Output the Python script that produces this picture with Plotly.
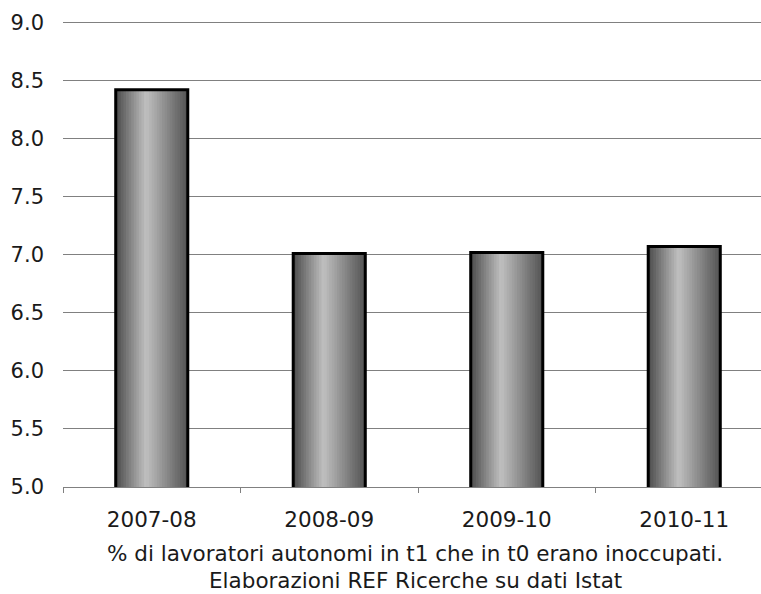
import plotly.graph_objects as go

periods = ["2007-08", "2008-09", "2009-10", "2010-11"]
shares = [8.42, 7.01, 7.02, 7.07]
y_ticks = [5.0, 5.5, 6.0, 6.5, 7.0, 7.5, 8.0, 8.5, 9.0]
caption = [
    "% di lavoratori autonomi in t1 che in t0 erano inoccupati.",
    "Elaborazioni REF Ricerche su dati Istat",
]

FONT = "DejaVu Sans"
W, H = 761, 594
PX_UNIT = 116.3              # pixels per y unit in the target
Y_TOP = 9.03                 # a bit above 9 so the top gridline is drawn
L = 63
T = round(22 - (Y_TOP - 9) * PX_UNIT)
B = H - 487
BAR_W = 0.406
N_STRIPS = 28


def shade(t):
    # cylinder-like grey gradient: dark edges, light just left of centre
    if t < 0.42:
        v = 75 + (192 - 75) * (t / 0.42)
    else:
        v = 192 - (192 - 82) * ((t - 0.42) / 0.58)
    v = int(round(v))
    return f"rgb({v},{v},{v})"


fig = go.Figure()

step = BAR_W / N_STRIPS
for i in range(N_STRIPS):
    t = (i + 0.5) / N_STRIPS
    w = step * 1.4 if i < N_STRIPS - 1 else step
    fig.add_trace(go.Bar(
        x=periods, y=shares,
        width=w, offset=-BAR_W / 2 + i * step,
        marker=dict(color=shade(t), line=dict(width=0)),
        showlegend=False, hoverinfo="skip",
    ))

# black outline on top
fig.add_trace(go.Bar(
    x=periods, y=shares,
    width=BAR_W, offset=-BAR_W / 2,
    marker=dict(color="rgba(0,0,0,0)", line=dict(color="black", width=3)),
    showlegend=False,
))

# plot area runs past the right edge of the picture in the original
plot_w = W - L
cat_px = 177.5
x_max = -0.5 + plot_w / cat_px

fig.update_layout(
    width=W, height=H,
    margin=dict(l=L, r=0, t=T, b=B, autoexpand=False),
    barmode="overlay",
    plot_bgcolor="white", paper_bgcolor="white",
    font=dict(family=FONT, size=21.5, color="#1a1a1a"),
    xaxis=dict(
        type="category",
        range=[-0.5, x_max],
        showline=True, linecolor="#808080", linewidth=1,
        ticks="outside", tickson="boundaries", ticklen=5, tickcolor="#808080",
        ticklabelstandoff=13,
        showgrid=False, automargin=False,
    ),
    yaxis=dict(
        range=[5, Y_TOP], tickvals=y_ticks, ticktext=[f"{v:.1f}" for v in y_ticks],
        tickfont=dict(size=21),
        showgrid=True, gridcolor="#808080", gridwidth=1,
        showline=False, zeroline=False, ticks="",
        ticklabelstandoff=18, automargin=False,
    ),
)

plot_h = H - T - B
for line, y_px in zip(caption, [553, 580]):
    fig.add_annotation(
        text=line, showarrow=False,
        xref="paper", yref="paper",
        x=(415 - L) / plot_w, y=-(y_px - 487) / plot_h,
        xanchor="center", yanchor="middle",
        font=dict(family=FONT, size=21.5, color="#1a1a1a"),
    )

# drop the default body margin so the figure sits at the page origin
fig.write_html(
    "out.html",
    config={"displayModeBar": False},
    post_script="document.body.style.margin='0';document.body.style.overflow='hidden';",
)
